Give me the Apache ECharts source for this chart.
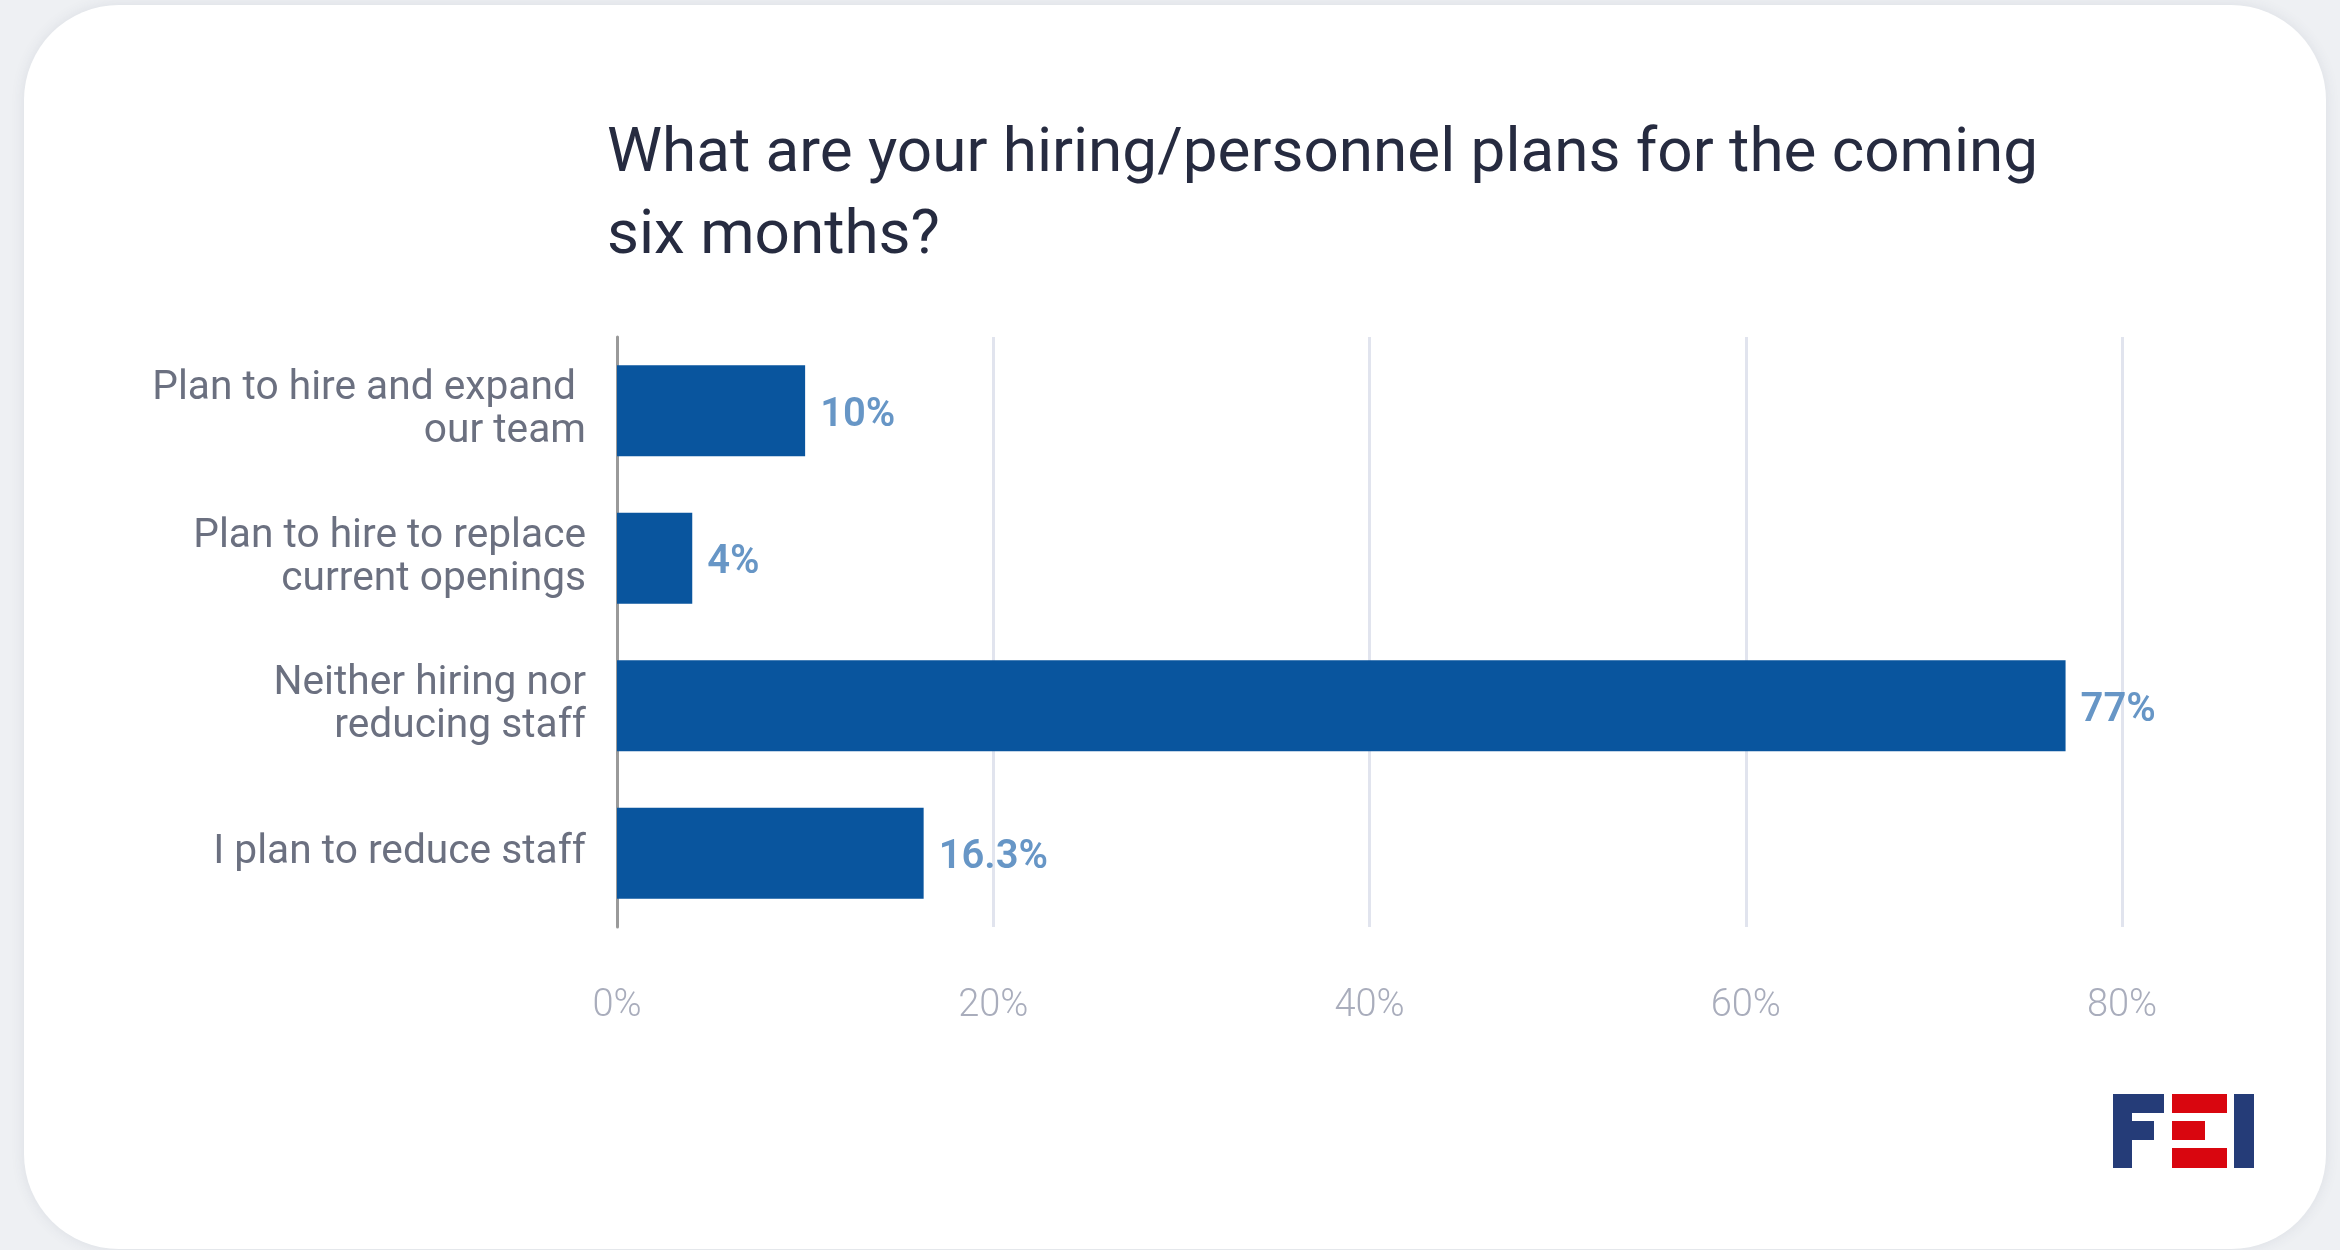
<!DOCTYPE html>
<html>
<head>
<meta charset="utf-8">
<script src="https://cdn.jsdelivr.net/npm/echarts@6/dist/echarts.min.js"></script>
<style>
  html, body { margin: 0; padding: 0; background: #eef0f3; }
  #chart { width: 2340px; height: 1250px; }
</style>
</head>
<body>
<div id="chart"></div>
<script>
// Survey: hiring / personnel plans for the coming six months
const questionTitle = 'What are your hiring/personnel plans for the coming\nsix months?';
const categories = [
  'Plan to hire and expand \nour team',
  'Plan to hire to replace\ncurrent openings',
  'Neither hiring nor\nreducing staff',
  'I plan to reduce staff'
];
const shares = [10, 4, 77, 16.3];   // percent of respondents
const axisMin = 0;
const axisMax = 80;
const axisStep = 20;

const chart = echarts.init(document.getElementById('chart'), null, { renderer: 'canvas' });

// FEI wordmark built from blocks
const navy = '#253c78';
const red = '#d9060f';
const logo = [
  // F
  { x: 2113, y: 1094, w: 19, h: 74, c: navy },
  { x: 2113, y: 1094, w: 51, h: 19, c: navy },
  { x: 2113, y: 1121, w: 41, h: 19, c: navy },
  // E (stripes)
  { x: 2172, y: 1094, w: 55, h: 19, c: red },
  { x: 2172, y: 1121, w: 33, h: 19, c: red },
  { x: 2172, y: 1148, w: 55, h: 20, c: red },
  // I
  { x: 2234, y: 1094, w: 20, h: 74, c: navy }
].map(b => ({
  type: 'rect',
  shape: { x: b.x, y: b.y, width: b.w, height: b.h },
  style: { fill: b.c },
  z: 10
}));

chart.setOption({
  backgroundColor: '#eef0f3',
  animation: false,
  graphic: [
    {
      type: 'rect',
      shape: { x: 24, y: 5, width: 2302, height: 1244, r: 95 },
      style: { fill: '#ffffff', shadowBlur: 14, shadowColor: 'rgba(60,70,100,0.10)' },
      z: -10
    },
    ...logo
  ],
  title: {
    text: questionTitle,
    left: 602,
    top: 109,
    textStyle: {
      fontFamily: 'Roboto',
      fontWeight: 400,
      fontSize: 62,
      lineHeight: 82,
      color: '#262b40'
    }
  },
  grid: {
    left: 617,
    right: 218,
    top: 337,
    bottom: 323,
    containLabel: false
  },
  xAxis: {
    type: 'value',
    min: axisMin,
    max: axisMax,
    interval: axisStep,
    axisLine: { show: false },
    axisTick: { show: false },
    axisLabel: {
      formatter: '{value}%',
      margin: 60,
      fontFamily: 'Roboto',
      fontWeight: 300,
      fontSize: 38,
      color: '#a9adbc'
    },
    splitLine: { lineStyle: { color: '#e1e4ee', width: 3 } }
  },
  yAxis: {
    type: 'category',
    inverse: true,
    data: categories,
    axisLine: { show: true, lineStyle: { color: '#9a9a9a', width: 3 } },
    axisTick: { show: false },
    axisLabel: {
      margin: 31,
      fontFamily: 'Roboto',
      fontSize: 40.7,
      lineHeight: 43,
      padding: [22, 0, 0, 0],
      color: '#6b7080',
      align: 'right'
    }
  },
  series: [{
    type: 'bar',
    data: shares,
    barWidth: 91,
    itemStyle: { color: '#09559e' },
    label: {
      show: true,
      position: 'right',
      distance: 15,
      offset: [0, 5],
      formatter: '{c}%',
      fontFamily: 'Roboto',
      fontWeight: 600,
      fontSize: 40,
      color: '#6796c6'
    }
  }]
});
</script>
</body>
</html>
